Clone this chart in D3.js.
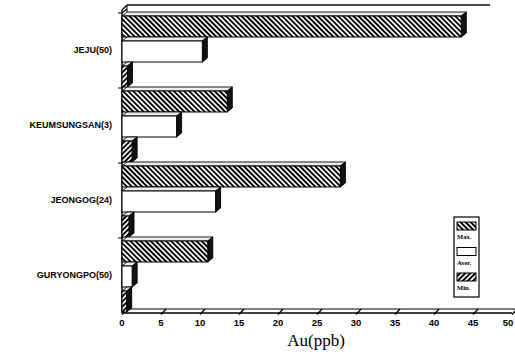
<!DOCTYPE html>
<html>
<head>
<meta charset="utf-8">
<script src="https://cdn.jsdelivr.net/npm/d3@7"></script>
<style>
  html, body { margin: 0; padding: 0; background: #fff; }
  svg { display: block; }
</style>
</head>
<body>
<script>
// ---- data ----
const categories = ["JEJU(50)", "KEUMSUNGSAN(3)", "JEONGOG(24)", "GURYONGPO(50)"];
const seriesNames = ["Max.", "Aver.", "Min."];
const maxValues = [43.5, 13.5, 28.0, 11.0];
const averValues = [10.3, 7.0, 12.0, 1.3];
const minValues = [0.7, 1.3, 0.9, 0.6];
const xTickValues = [0, 5, 10, 15, 20, 25, 30, 35, 40, 45, 50];
const xTitle = "Au(ppb)";

const W = 515, H = 358;
const svg = d3.select("body").append("svg").attr("width", W).attr("height", H);

const defs = svg.append("defs");
function hatch(id, angle) {
  const p = defs.append("pattern").attr("id", id)
    .attr("patternUnits", "userSpaceOnUse")
    .attr("width", 3.6).attr("height", 3.6)
    .attr("patternTransform", `rotate(${angle})`);
  p.append("rect").attr("width", 3.6).attr("height", 3.6).attr("fill", "#fff");
  p.append("rect").attr("x", 0).attr("width", 1.9).attr("height", 3.6).attr("fill", "#000");
}
hatch("hMax", -45);
hatch("hMin", 45);
const fills = { "Max.": "url(#hMax)", "Aver.": "#fff", "Min.": "url(#hMin)" };

const x = d3.scaleLinear().domain([0, 50]).range([122, 512]);
const y = d3.scaleBand().domain(categories).range([12, 312]);
const yi = d3.scaleBand().domain(seriesNames).range([0, y.bandwidth()]);
const dx = 5, dy = 4;

const g = svg.append("g");
// back wall lines
g.append("line").attr("x1", x(0) + dx).attr("x2", x(0) + dx).attr("y1", 5).attr("y2", 309)
  .attr("stroke", "#000").attr("stroke-width", 1);
g.append("line").attr("x1", x(0) + dx).attr("x2", 490).attr("y1", 5).attr("y2", 5)
  .attr("stroke", "#444").attr("stroke-width", 1.8);
g.append("path").attr("d", `M${x(0)},${10}L${x(0) + dx},${5}`)
  .attr("stroke", "#000").attr("stroke-width", 1.2).attr("fill", "none");

// floor
const floorY = 313;
g.append("line").attr("x1", x(0)).attr("x2", x(50)).attr("y1", floorY).attr("y2", floorY)
  .attr("stroke", "#000").attr("stroke-width", 1.5);
g.append("line").attr("x1", x(0) + dx).attr("x2", x(50) + dx).attr("y1", floorY - dy).attr("y2", floorY - dy)
  .attr("stroke", "#000").attr("stroke-width", 1);
g.selectAll(".xt").data(xTickValues).enter().append("line")
  .attr("x1", d => x(d)).attr("x2", d => x(d) + dx)
  .attr("y1", floorY + 1.5).attr("y2", floorY - dy)
  .attr("stroke", "#000").attr("stroke-width", 1.3);
g.selectAll(".xl").data(xTickValues).enter().append("text")
  .attr("x", d => Math.min(x(d), W - 7)).attr("y", 326)
  .attr("text-anchor", "middle")
  .attr("font-family", "Liberation Sans, Arial, sans-serif")
  .attr("font-weight", "bold").attr("font-size", 9.5)
  .text(d => d);

g.append("text").attr("x", 316).attr("y", 346).attr("text-anchor", "middle")
  .attr("font-family", "Liberation Serif, Times New Roman, serif")
  .attr("font-size", 17).text(xTitle);

// left axis
g.append("line").attr("x1", x(0)).attr("x2", x(0)).attr("y1", 10).attr("y2", floorY)
  .attr("stroke", "#000").attr("stroke-width", 1.5);
const seps = categories.map(c => y(c));
g.selectAll(".sep").data(seps).enter().append("path")
  .attr("d", d => `M${x(0) - 4},${d + 1}L${x(0)},${d + 1}L${x(0) + dx},${d + 1 - dy}`)
  .attr("fill", "none").attr("stroke", "#000").attr("stroke-width", 1.2);

// category labels
g.selectAll(".cl").data(categories).enter().append("text")
  .attr("x", 112).attr("y", d => y(d) + y.bandwidth() / 2 + 3)
  .attr("text-anchor", "end")
  .attr("font-family", "Liberation Sans, Arial, sans-serif")
  .attr("font-weight", "bold").attr("font-size", 9)
  .text(d => d);

// bars
const rows = [];
categories.forEach((c, i) => {
  rows.push({ c, s: "Max.", v: maxValues[i] });
  rows.push({ c, s: "Aver.", v: averValues[i] });
  rows.push({ c, s: "Min.", v: minValues[i] });
});
const bh = yi.bandwidth() - 4;
const bars = g.selectAll(".bar").data(rows).enter().append("g");
bars.each(function(d) {
  const sel = d3.select(this);
  const x0 = x(0), x1 = x(d.v);
  const yt = y(d.c) + yi(d.s) + dy;
  const yb = yt + bh;
  sel.append("path")
    .attr("d", `M${x0},${yt}L${x0 + dx},${yt - dy}L${x1 + dx},${yt - dy}L${x1},${yt}Z`)
    .attr("fill", "#eee").attr("stroke", "#000").attr("stroke-width", 0.9);
  sel.append("path")
    .attr("d", `M${x1},${yt}L${x1 + dx},${yt - dy}L${x1 + dx},${yb - dy}L${x1},${yb}Z`)
    .attr("fill", "#111").attr("stroke", "#000").attr("stroke-width", 0.9);
  sel.append("rect").attr("x", x0).attr("y", yt).attr("width", Math.max(0, x1 - x0)).attr("height", bh)
    .attr("fill", fills[d.s]).attr("stroke", "#000").attr("stroke-width", 1);
});

// legend
const lg = svg.append("g").attr("transform", "translate(454,217)");
lg.append("rect").attr("width", 25).attr("height", 80).attr("fill", "#fff")
  .attr("stroke", "#000").attr("stroke-width", 1.2);
seriesNames.forEach((s, i) => {
  const yy = 5 + i * 25.5;
  lg.append("rect").attr("x", 3).attr("y", yy).attr("width", 19).attr("height", 8)
    .attr("fill", fills[s]).attr("stroke", "#000").attr("stroke-width", 1);
  lg.append("text").attr("x", 3).attr("y", yy + 17)
    .attr("font-family", "Liberation Serif, Times New Roman, serif")
    .attr("font-weight", "bold").attr("font-size", 6.5).text(s);
});
</script>
</body>
</html>
